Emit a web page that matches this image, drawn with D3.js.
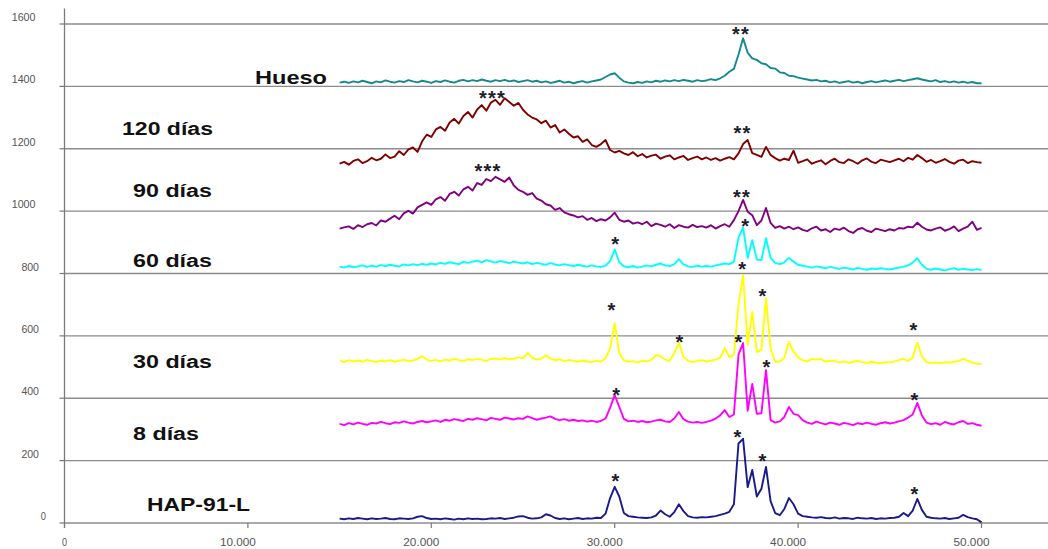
<!DOCTYPE html>
<html><head><meta charset="utf-8">
<script src="https://cdn.jsdelivr.net/npm/d3@7"></script>
<style>html,body{margin:0;padding:0;background:#fff;}svg{display:block;}</style>
</head><body><svg id="c" width="1048" height="549"></svg>
<script>
// ---------- data ----------
const seriesNames = ["HAP-91-L", "8 días", "30 días", "60 días", "90 días", "120 días", "Hueso"];
const seriesColors = ["#1a1a8a", "#ff00ff", "#ffff00", "#00ffff", "#800080", "#800000", "#148a8a"];
// sampling positions (2θ, degrees): 15 → 50 every 0.25
const twoTheta = d3.range(141).map(i => 15 + i * 0.25);

const hap91L = [
 14,12,15,13,16,14,12,15,13,14,16,13,12,15,14,13,15,20,22,16,
 13,14,12,15,13,11,14,12,15,13,14,12,13,15,14,16,13,15,17,21,
 22,17,14,15,18,28,24,16,13,15,12,14,16,13,15,14,17,16,30,80,
 116,85,32,22,20,18,17,16,18,24,40,28,20,35,60,38,22,18,17,19,
 18,20,22,26,30,36,60,255,270,115,170,85,110,180,70,32,25,45,80,60,
 30,22,20,18,17,19,16,15,18,14,16,15,13,17,15,14,16,13,15,14,
 16,17,20,32,22,40,77,42,20,17,15,14,16,13,15,17,26,19,15,12,
 2];
const dias8 = [
 318,314,320,316,322,318,315,321,319,324,320,317,323,321,326,322,319,324,327,323,
 326,329,324,331,328,333,330,327,334,331,336,333,329,337,334,331,338,335,332,336,
 334,342,336,331,335,338,342,334,330,333,328,331,327,329,325,328,324,327,335,370,
 410,372,334,326,328,324,327,323,325,329,331,326,324,335,356,333,325,322,324,321,
 324,328,335,345,362,340,348,540,577,360,446,350,352,490,330,322,326,340,372,350,
 346,330,322,318,325,320,316,322,319,315,321,318,314,320,317,322,318,315,320,323,
 319,322,326,330,338,348,385,345,322,317,320,315,324,319,316,323,327,318,320,315,
 312];
const dias30 = [
 520,516,522,518,521,517,523,519,516,521,518,522,517,520,524,519,521,526,535,524,
 520,523,518,524,521,526,522,519,525,522,527,523,520,526,528,524,529,525,527,531,
 528,545,530,524,527,538,528,522,525,519,523,520,517,521,518,516,520,518,528,560,
 641,545,522,517,519,515,520,518,523,538,535,524,520,545,578,532,520,516,519,522,
 518,521,524,530,561,532,540,700,795,570,677,548,555,721,560,517,518,530,581,549,
 530,522,518,526,524,526,517,521,519,515,518,514,517,520,516,513,517,514,512,516,
 515,518,522,526,520,530,578,535,516,513,515,512,516,514,517,519,526,520,514,511,
 510];
const dias60 = [
 822,819,824,820,823,826,821,825,822,827,824,828,825,823,829,826,830,827,831,828,
 832,829,834,831,836,833,830,837,834,838,841,836,843,839,835,840,837,833,838,835,
 832,836,830,834,831,828,833,829,826,830,827,824,828,825,822,826,823,821,825,840,
 877,836,823,820,824,819,822,826,823,828,832,826,824,830,846,829,823,821,825,822,
 824,822,826,829,832,830,838,915,948,850,907,845,843,913,850,834,830,836,850,838,
 828,825,822,819,823,820,817,821,818,815,819,816,813,818,815,812,816,814,817,815,
 813,816,819,822,826,835,849,828,815,812,816,813,810,814,817,812,815,813,811,814,
 811];
const dias90 = [
 944,948,951,943,955,949,958,962,954,970,966,976,985,974,993,1001,992,1012,1020,1028,
 1020,1038,1045,1033,1055,1062,1050,1070,1078,1066,1090,1084,1103,1096,1110,1102,1094,1108,1082,1068,
 1062,1052,1058,1040,1034,1022,1018,1004,1010,996,990,986,980,984,972,978,968,974,970,980,
 995,972,966,970,960,964,958,966,952,960,956,950,958,946,955,950,947,956,949,952,
 947,955,944,952,958,950,971,1000,1036,998,987,955,970,1010,962,946,952,944,950,942,
 948,940,936,945,950,938,942,933,944,940,947,936,930,942,946,937,933,944,940,936,
 942,938,946,944,950,948,963,950,941,938,944,948,937,942,951,936,944,950,966,940,
 946];
const dias120 = [
 1152,1158,1149,1161,1166,1154,1160,1171,1163,1168,1182,1170,1175,1192,1180,1198,1204,1190,1224,1245,
 1238,1262,1270,1258,1284,1296,1281,1305,1318,1300,1326,1340,1322,1348,1357,1341,1362,1350,1338,1347,
 1325,1310,1300,1294,1282,1290,1268,1276,1252,1262,1248,1236,1240,1222,1230,1212,1206,1215,1228,1196,
 1188,1193,1185,1180,1189,1176,1183,1172,1178,1181,1168,1175,1179,1166,1172,1177,1164,1170,1175,1166,
 1172,1164,1170,1162,1168,1173,1166,1185,1215,1228,1186,1180,1174,1206,1180,1170,1162,1168,1164,1194,
 1155,1160,1166,1152,1158,1163,1150,1161,1168,1157,1154,1166,1160,1152,1163,1169,1158,1154,1165,1161,
 1157,1163,1168,1160,1171,1165,1180,1170,1158,1164,1155,1160,1167,1158,1152,1162,1165,1154,1160,1157,
 1155];
const hueso = [
 1412,1415,1411,1416,1413,1418,1414,1410,1416,1413,1419,1415,1412,1417,1414,1420,1416,1413,1418,1415,
 1411,1417,1414,1419,1415,1412,1418,1421,1416,1420,1417,1422,1418,1415,1420,1417,1421,1416,1419,1414,
 1417,1420,1415,1418,1413,1416,1411,1414,1418,1412,1415,1410,1414,1417,1412,1416,1419,1422,1430,1438,
 1442,1428,1416,1412,1410,1414,1411,1416,1413,1418,1415,1419,1416,1420,1417,1421,1418,1415,1420,1417,
 1419,1423,1420,1426,1434,1447,1456,1502,1554,1508,1490,1485,1474,1471,1459,1457,1445,1443,1434,1433,
 1428,1425,1422,1419,1421,1416,1418,1413,1416,1411,1414,1417,1412,1415,1410,1414,1417,1413,1416,1419,
 1415,1418,1421,1417,1420,1423,1426,1422,1419,1416,1420,1414,1417,1413,1416,1412,1415,1411,1414,1410,
 1410];
const seriesValues = [hap91L, dias8, dias30, dias60, dias90, dias120, hueso];

const yTickValues = [0, 200, 400, 600, 800, 1000, 1200, 1400, 1600];
const xTickValues = [0, 10, 20, 30, 40, 50];
const xTickLabels = ["0", "10.000", "20.000", "30.000", "40.000", "50.000"];

// peak markers
const starTheta = [36.89, 23.34, 36.97, 23.09, 36.94, 30.06, 37.14, 29.85, 33.56, 36.98, 38.09, 46.32, 30.11, 36.78, 38.30, 46.37, 30.07, 36.72, 38.09, 46.37];
const starValue = [1581, 1374, 1262, 1140, 1059, 907, 966, 696, 593, 827, 742, 632, 423, 593, 514, 408, 147, 290, 213, 106];
const starText  = ["**", "***", "**", "***", "**", "*", "*", "*", "*", "*", "*", "*", "*", "*", "*", "*", "*", "*", "*", "*"];

// ---------- layout ----------
const svg = d3.select("#c");
const x = d3.scaleLinear().domain([0, 50]).range([64.5, 981.5]);
const y = d3.scaleLinear().domain([0, 1600]).range([523, 24]);
const FONT = "Arial, 'Liberation Sans', Helvetica, sans-serif";

// gridlines
svg.append("g").selectAll("line").data(yTickValues).join("line")
  .attr("x1", 64.5).attr("x2", 1048)
  .attr("y1", d => y(d)).attr("y2", d => y(d))
  .attr("stroke", "#8c8c8c").attr("stroke-width", 1.3);

// y axis line + ticks
svg.append("line").attr("x1", 64.5).attr("x2", 64.5).attr("y1", y(1650)).attr("y2", 528)
  .attr("stroke", "#7a7a7a").attr("stroke-width", 1.3);
svg.append("g").selectAll("line").data(yTickValues).join("line")
  .attr("x1", 59.5).attr("x2", 64.5).attr("y1", d => y(d)).attr("y2", d => y(d))
  .attr("stroke", "#7a7a7a").attr("stroke-width", 1.2);
svg.append("g").selectAll("line").data(xTickValues).join("line")
  .attr("x1", d => x(d)).attr("x2", d => x(d)).attr("y1", 523).attr("y2", 528)
  .attr("stroke", "#7a7a7a").attr("stroke-width", 1.2);

// y tick labels
svg.append("g").selectAll("text").data(yTickValues).join("text")
  .attr("x", d => 46 - 3.5 * (String(d).length - 1))
  .attr("y", d => y(d) - 3)
  .attr("text-anchor", "end")
  .attr("font-family", FONT).attr("font-size", 10).attr("fill", "#555")
  .attr("textLength", d => String(d).length * 6.2 - 1)
  .attr("lengthAdjust", "spacingAndGlyphs")
  .text(d => String(d));

// x tick labels
svg.append("g").selectAll("text").data(xTickValues).join("text")
  .attr("x", d => x(d) - (d === 0 ? 0 : 10))
  .attr("y", 546)
  .attr("text-anchor", "middle")
  .attr("font-family", FONT).attr("font-size", 10).attr("fill", "#555")
  .attr("textLength", (d, i) => xTickLabels[i].length === 1 ? 5 : 36)
  .attr("lengthAdjust", "spacingAndGlyphs")
  .text((d, i) => xTickLabels[i]);

// series lines
const line = d3.line().x((d, i) => x(twoTheta[i])).y(d => y(d));
svg.append("g").selectAll("path").data(seriesValues).join("path")
  .attr("d", d => line(d))
  .attr("fill", "none")
  .attr("stroke", (d, i) => seriesColors[i])
  .attr("stroke-width", 1.9)
  .attr("stroke-linejoin", "round");

// series labels (left, baseline, width)
const labelLayout = [[147, 511, 103], [133, 440, 66], [133, 368, 79], [133, 267, 79], [133, 197, 79], [122, 134.5, 91], [255, 84, 72]];
svg.append("g").selectAll("text").data(seriesNames).join("text")
  .attr("x", (d, i) => labelLayout[i][0])
  .attr("y", (d, i) => labelLayout[i][1])
  .attr("font-family", FONT).attr("font-size", 18).attr("font-weight", "bold").attr("fill", "#111")
  .attr("textLength", (d, i) => labelLayout[i][2])
  .attr("lengthAdjust", "spacingAndGlyphs")
  .text(d => d);

// stars
svg.append("g").selectAll("text").data(starTheta).join("text")
  .attr("x", d => x(d))
  .attr("y", (d, i) => y(starValue[i]) + 11)
  .attr("text-anchor", "middle")
  .attr("font-family", FONT).attr("font-size", 20).attr("font-weight", "bold").attr("fill", "#1c1c2c")
  .attr("letter-spacing", 1.2)
  .text((d, i) => starText[i]);
</script></body></html>
